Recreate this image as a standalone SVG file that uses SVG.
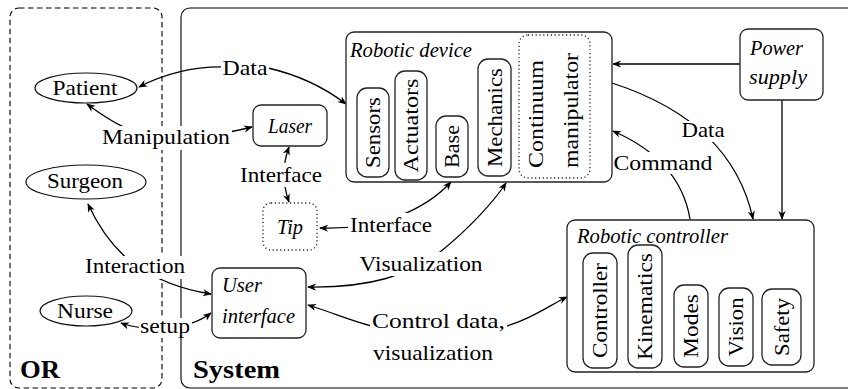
<svg xmlns="http://www.w3.org/2000/svg" width="848" height="389" viewBox="0 0 848 389">
  <style>
    text { font-family: "Liberation Serif", "Times New Roman", serif; font-size: 21.5px; fill: #000; }
    .it { font-style: italic; font-size: 21px; }
    .hd { font-weight: bold; font-size: 25px; }
    .box { fill: #fff; stroke: #222; stroke-width: 1.3; }
    .dot { stroke-dasharray: 1.2 2.6; }
    .ell { fill: #fff; stroke: #111; stroke-width: 1.2; }
    .edge { fill: none; stroke: #000; stroke-width: 1.3; }
    .one { marker-end: url(#ah); }
    .two { marker-start: url(#ah); marker-end: url(#ah); }
    .bg { fill: #fff; }
  </style>
  <defs>
    <marker id="ah" viewBox="0 0 10 10" refX="9" refY="5" markerWidth="9" markerHeight="9" markerUnits="userSpaceOnUse" orient="auto-start-reverse">
      <path d="M0,1 L10,5 L0,9 L3,5 z" fill="#000"/>
    </marker>
  </defs>

  <!-- containers -->
  <g id="or-area">
    <rect x="10" y="8" width="152" height="380" rx="9" fill="none" stroke="#000" stroke-width="1.1" stroke-dasharray="5.5 3.5"/>
  </g>
  <g id="system-area">
    <rect x="181" y="8" width="700" height="380" rx="9" fill="none" stroke="#000" stroke-width="1.1"/>
  </g>

  <!-- connectors -->
  <g id="connectors">
    <path class="edge two" d="M139,87 Q180,66 225,67 L268,68 Q312,78 346,104"/>
    <path class="edge two" d="M87,104 C105,117 128,135 166,137 C205,138 232,132 252,127"/>
    <path class="edge two" d="M289,147 Q279,174 289,202"/>
    <path class="edge two" d="M320,228 C380,230 425,210 451,182"/>
    <path class="edge two" d="M308,287 C370,288 410,275 440,252 C470,228 495,200 506,183"/>
    <path class="edge two" d="M308,305 C340,315 360,325 385,329 L500,328 C530,320 550,305 567,297"/>
    <path class="edge two" d="M88,204 C100,230 115,250 135,265 C160,282 185,290 211,294"/>
    <path class="edge two" d="M121,323 C140,330 185,333 211,313"/>
    <path class="edge one" d="M740,64 L613,64"/>
    <path class="edge one" d="M782,100 L782,219"/>
    <path class="edge one" d="M612,83 Q732,122 753,219"/>
    <path class="edge one" d="M690,219 Q680,160 613,131"/>
  </g>

  <!-- connector labels -->
  <g id="edge-labels">
    <rect class="bg" x="221" y="56" width="48" height="22"/>
    <text x="245" y="75" text-anchor="middle" textLength="45" lengthAdjust="spacingAndGlyphs">Data</text>
    <rect class="bg" x="101" y="126" width="131" height="24"/>
    <text x="166" y="144" text-anchor="middle" textLength="128" lengthAdjust="spacingAndGlyphs">Manipulation</text>
    <rect class="bg" x="238" y="163" width="86" height="24"/>
    <text x="281" y="182" text-anchor="middle" textLength="82" lengthAdjust="spacingAndGlyphs">Interface</text>
    <rect class="bg" x="348" y="213" width="86" height="24"/>
    <text x="391" y="232" text-anchor="middle" textLength="82" lengthAdjust="spacingAndGlyphs">Interface</text>
    <rect class="bg" x="358" y="252" width="127" height="24"/>
    <text x="421" y="271" text-anchor="middle" textLength="123" lengthAdjust="spacingAndGlyphs">Visualization</text>
    <rect class="bg" x="370" y="314" width="137" height="52"/>
    <text x="372" y="328" textLength="133" lengthAdjust="spacingAndGlyphs">Control data,</text>
    <text x="373" y="360" textLength="120" lengthAdjust="spacingAndGlyphs">visualization</text>
    <rect class="bg" x="84" y="256" width="103" height="23"/>
    <text x="135" y="273" text-anchor="middle" textLength="100" lengthAdjust="spacingAndGlyphs">Interaction</text>
    <rect class="bg" x="139" y="318" width="53" height="20"/>
    <text x="165" y="333" text-anchor="middle" textLength="50" lengthAdjust="spacingAndGlyphs">setup</text>
    <rect class="bg" x="680" y="121" width="46" height="21"/>
    <text x="703" y="137" text-anchor="middle" textLength="43" lengthAdjust="spacingAndGlyphs">Data</text>
    <rect class="bg" x="612" y="152" width="103" height="22"/>
    <text x="663" y="170" text-anchor="middle" textLength="99" lengthAdjust="spacingAndGlyphs">Command</text>
  </g>

  <!-- area titles -->
  <text class="hd" x="20" y="378" textLength="40" lengthAdjust="spacingAndGlyphs">OR</text>
  <text class="hd" x="193" y="378" textLength="87" lengthAdjust="spacingAndGlyphs">System</text>

  <!-- OR nodes -->
  <g id="patient">
    <ellipse class="ell" cx="86" cy="88" rx="51" ry="15"/>
    <text x="85" y="95" text-anchor="middle" textLength="65" lengthAdjust="spacingAndGlyphs">Patient</text>
  </g>
  <g id="surgeon">
    <ellipse class="ell" cx="86" cy="182" rx="60" ry="17"/>
    <text x="85" y="188" text-anchor="middle" textLength="76" lengthAdjust="spacingAndGlyphs">Surgeon</text>
  </g>
  <g id="nurse">
    <ellipse class="ell" cx="86" cy="311" rx="46" ry="15"/>
    <text x="85" y="318" text-anchor="middle" textLength="56" lengthAdjust="spacingAndGlyphs">Nurse</text>
  </g>

  <!-- system nodes -->
  <g id="laser">
    <rect class="box" x="253" y="105" width="74" height="41" rx="8"/>
    <text class="it" x="290" y="133" text-anchor="middle" textLength="44" lengthAdjust="spacingAndGlyphs">Laser</text>
  </g>
  <g id="tip">
    <rect class="box dot" x="263" y="203" width="54" height="47" rx="8"/>
    <text class="it" x="290" y="234" text-anchor="middle" textLength="26" lengthAdjust="spacingAndGlyphs">Tip</text>
  </g>
  <g id="user-interface">
    <rect class="box" x="212" y="268" width="94" height="70" rx="8"/>
    <text class="it" x="222" y="292" textLength="40" lengthAdjust="spacingAndGlyphs">User</text>
    <text class="it" x="222" y="323" textLength="73" lengthAdjust="spacingAndGlyphs">interface</text>
  </g>
  <g id="power-supply">
    <rect class="box" x="740" y="29" width="83" height="71" rx="8"/>
    <text class="it" x="750" y="55" textLength="53" lengthAdjust="spacingAndGlyphs">Power</text>
    <text class="it" x="749" y="84" textLength="58" lengthAdjust="spacingAndGlyphs">supply</text>
  </g>

  <g id="robotic-device">
    <rect class="box" x="346" y="32" width="266" height="150" rx="8"/>
    <text class="it" x="350" y="57" textLength="122" lengthAdjust="spacingAndGlyphs">Robotic device</text>
    <g id="sensors">
      <rect class="box" x="357" y="88" width="32" height="89" rx="10"/>
      <text transform="translate(373,132.5) rotate(-90)" x="0" y="7" text-anchor="middle" textLength="71" lengthAdjust="spacingAndGlyphs">Sensors</text>
    </g>
    <g id="actuators">
      <rect class="box" x="395" y="71" width="32" height="109" rx="10"/>
      <text transform="translate(411,125.5) rotate(-90)" x="0" y="7" text-anchor="middle" textLength="94" lengthAdjust="spacingAndGlyphs">Actuators</text>
    </g>
    <g id="base">
      <rect class="box" x="436" y="116" width="32" height="61" rx="10"/>
      <text transform="translate(452,146.5) rotate(-90)" x="0" y="7" text-anchor="middle" textLength="43" lengthAdjust="spacingAndGlyphs">Base</text>
    </g>
    <g id="mechanics">
      <rect class="box" x="478" y="59" width="33" height="117" rx="10"/>
      <text transform="translate(494.5,117.5) rotate(-90)" x="0" y="7" text-anchor="middle" textLength="99" lengthAdjust="spacingAndGlyphs">Mechanics</text>
    </g>
    <g id="continuum-manipulator">
      <rect class="box dot" x="519" y="35" width="71" height="143" rx="9"/>
      <text transform="translate(535,168) rotate(-90)" x="0" y="8" textLength="108" lengthAdjust="spacingAndGlyphs">Continuum</text>
      <text transform="translate(570,168) rotate(-90)" x="0" y="8" textLength="115" lengthAdjust="spacingAndGlyphs">manipulator</text>
    </g>
  </g>

  <g id="robotic-controller">
    <rect class="box" x="567" y="220" width="247" height="152" rx="8"/>
    <text class="it" x="577" y="243" textLength="151" lengthAdjust="spacingAndGlyphs">Robotic controller</text>
    <g id="controller">
      <rect class="box" x="583" y="253" width="34" height="115" rx="10"/>
      <text transform="translate(600,310.5) rotate(-90)" x="0" y="7" text-anchor="middle" textLength="95" lengthAdjust="spacingAndGlyphs">Controller</text>
    </g>
    <g id="kinematics">
      <rect class="box" x="628" y="245" width="34" height="123" rx="10"/>
      <text transform="translate(645,306.5) rotate(-90)" x="0" y="7" text-anchor="middle" textLength="107" lengthAdjust="spacingAndGlyphs">Kinematics</text>
    </g>
    <g id="modes">
      <rect class="box" x="674" y="285" width="34" height="82" rx="10"/>
      <text transform="translate(691,326) rotate(-90)" x="0" y="7" text-anchor="middle" textLength="64" lengthAdjust="spacingAndGlyphs">Modes</text>
    </g>
    <g id="vision">
      <rect class="box" x="719" y="288" width="34" height="78" rx="10"/>
      <text transform="translate(736,327) rotate(-90)" x="0" y="7" text-anchor="middle" textLength="59" lengthAdjust="spacingAndGlyphs">Vision</text>
    </g>
    <g id="safety">
      <rect class="box" x="762" y="289" width="39" height="76" rx="10"/>
      <text transform="translate(781.5,327) rotate(-90)" x="0" y="7" text-anchor="middle" textLength="58" lengthAdjust="spacingAndGlyphs">Safety</text>
    </g>
  </g>
</svg>
